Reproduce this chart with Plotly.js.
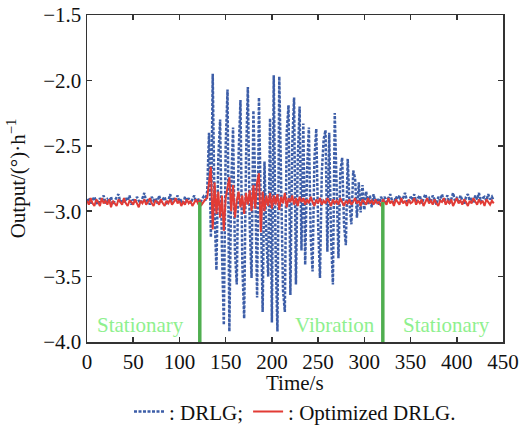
<!DOCTYPE html>
<html>
<head>
<meta charset="utf-8">
<script src="https://cdn.plot.ly/plotly-3.0.1.min.js"></script>
<style>html,body{margin:0;padding:0;background:#fff;}#chart{width:519px;height:426px;}</style>
</head>
<body>
<div id="chart"></div>
<script>
// Sampling: every 2 s starting at 0 s
var sampleStart = 0;
var sampleStep = 2;

// DRLG output (°/h)
var drlgBefore = [
  -2.93,-2.90,-2.94,-2.91,-2.89,-2.93,-2.95,-2.90,-2.92,-2.88,
  -2.94,-2.91,-2.93,-2.89,-2.95,-2.92,-2.90,-2.87,-2.93,-2.91,
  -2.94,-2.90,-2.92,-2.88,-2.95,-2.91,-2.93,-2.89,-2.92,-2.94,
  -2.90,-2.86,-2.93,-2.91,-2.95,-2.89,-2.92,-2.90,-2.94,-2.88,
  -2.93,-2.91,-2.89,-2.95,-2.92,-2.87,-2.94,-2.90,-2.92,-2.88,
  -2.93,-2.91,-2.95,-2.89,-2.92,-2.90,-2.94,-2.91,-2.88,-2.93,
  -2.90,-2.95,-2.91,-2.89,-2.92
];
var drlgVibration = [
  -2.85,-2.40,-3.20,-1.95,-3.00,-3.45,-2.60,-2.30,-3.30,-3.87,
  -2.50,-2.07,-3.92,-2.80,-2.36,-3.30,-3.56,-2.57,-2.15,-3.40,
  -3.82,-2.60,-2.05,-3.10,-3.51,-2.23,-2.80,-3.66,-2.13,-3.10,
  -3.77,-2.62,-3.20,-3.50,-2.29,-3.85,-1.96,-3.30,-3.92,-1.97,
  -2.90,-3.60,-3.77,-2.40,-2.19,-3.64,-2.50,-2.13,-3.56,-2.60,
  -2.20,-3.30,-2.33,-3.41,-2.70,-2.36,-3.20,-3.46,-2.60,-2.37,
  -3.10,-3.51,-2.70,-2.45,-2.38,-3.31,-2.40,-3.20,-3.56,-2.25,
  -2.80,-3.36,-2.70,-2.59,-3.10,-3.26,-2.60,-2.95,-3.10,-2.69,
  -2.75,-3.05,-2.78,-3.01,-2.80,-2.99,-2.85,-2.95,-2.88,-2.97,
  -2.87,-2.94,-2.90,-2.95,-2.89
];
var drlgAfter = [
  -2.92,-2.89,-2.93,-2.90,-2.87,-2.92,-2.94,-2.89,-2.91,-2.88,
  -2.93,-2.90,-2.86,-2.92,-2.94,-2.89,-2.91,-2.87,-2.93,-2.90,
  -2.88,-2.94,-2.91,-2.87,-2.92,-2.90,-2.93,-2.88,-2.91,-2.95,
  -2.89,-2.92,-2.87,-2.93,-2.90,-2.88,-2.94,-2.91,-2.86,-2.92,
  -2.90,-2.93,-2.88,-2.91,-2.95,-2.89,-2.87,-2.92,-2.90,-2.94,
  -2.88,-2.91,-2.86,-2.93,-2.90,-2.89,-2.92,-2.87,-2.91,-2.89,
  -2.92
];

// Optimized DRLG output (°/h)
var optBefore = [
  -2.92,-2.95,-2.90,-2.94,-2.96,-2.91,-2.93,-2.96,-2.90,-2.94,
  -2.92,-2.95,-2.91,-2.97,-2.92,-2.94,-2.96,-2.91,-2.93,-2.95,
  -2.90,-2.94,-2.96,-2.92,-2.93,-2.95,-2.91,-2.94,-2.97,-2.92,
  -2.94,-2.91,-2.95,-2.93,-2.90,-2.94,-2.96,-2.92,-2.93,-2.95,
  -2.91,-2.94,-2.96,-2.92,-2.94,-2.91,-2.95,-2.93,-2.90,-2.94,
  -2.92,-2.96,-2.93,-2.95,-2.91,-2.94,-2.92,-2.96,-2.93,-2.91,
  -2.94,-2.92,-2.95,-2.93,-2.91
];
var optVibration = [
  -2.90,-2.80,-2.66,-3.14,-2.78,-3.02,-2.85,-3.05,-2.88,-3.15,
  -2.90,-2.82,-2.74,-3.00,-2.80,-3.05,-2.92,-2.85,-2.97,-2.88,
  -3.02,-2.86,-2.95,-2.84,-3.00,-2.80,-2.98,-2.78,-2.71,-3.16,
  -2.85,-3.00,-2.88,-2.96,-2.86,-2.98,-2.88,-2.95,-2.87,-2.99,
  -2.89,-2.94,-2.86,-2.97,-2.90,-2.93,-2.88,-2.95,-2.90,-2.96,
  -2.89
];
var optAfter = [
  -2.93,-2.90,-2.95,-2.91,-2.94,-2.89,-2.93,-2.96,-2.91,-2.94,
  -2.90,-2.95,-2.92,-2.94,-2.90,-2.93,-2.96,-2.91,-2.94,-2.92,
  -2.95,-2.90,-2.93,-2.96,-2.92,-2.94,-2.91,-2.95,-2.93,-2.90,
  -2.94,-2.92,-2.96,-2.91,-2.93,-2.95,-2.90,-2.94,-2.92,-2.95,
  -2.91,-2.94,-2.93,-2.96,-2.91,-2.93,-2.95,-2.90,-2.94,-2.92,
  -2.96,-2.91,-2.93,-2.95,-2.90,-2.94,-2.92,-2.96,-2.91,-2.94,
  -2.93,-2.90,-2.95,-2.92,-2.94,-2.91,-2.96,-2.93,-2.90,-2.94,
  -2.92,-2.95,-2.91,-2.94,-2.96,-2.92,-2.93,-2.90,-2.95,-2.92,
  -2.94,-2.91,-2.96,-2.93,-2.90,-2.94,-2.92,-2.95,-2.91,-2.93,
  -2.96,-2.92,-2.94,-2.90,-2.93,-2.95,-2.91,-2.94,-2.92,-2.96,
  -2.91,-2.93,-2.95,-2.92,-2.94
];

// Phase boundaries (s) and labels
var boundaryTimes = [122, 320];
var boundaryLow = -4.0;
var boundaryHigh = -2.93;
var phaseLabels = ["Stationary", "Vibration", "Stationary"];
var phaseLabelTimes = [58, 268, 389];
var phaseLabelLevel = -3.87;

var seriesNames = [": DRLG;", ": Optimized DRLG."];
var xTitle = "Time/s";
var yTitle = "Output/(°)·h<sup>−1</sup>";

var drlg = drlgBefore.concat(drlgVibration, drlgAfter);
var opt = optBefore.concat(optVibration, optAfter);

var FONT = "Liberation Serif, Times New Roman, serif";
var FS = 21;
var traces = [
  {type: "scatter", mode: "lines", name: seriesNames[0], y: drlg, x0: sampleStart, dx: sampleStep,
   line: {color: "#3d5ea8", width: 2.5, dash: "3px,1.5px"}},
  {type: "scatter", mode: "lines", name: seriesNames[1], y: opt, x0: sampleStart, dx: sampleStep,
   line: {color: "#e23b35", width: 2}}
];
boundaryTimes.forEach(function (t) {
  traces.push({type: "scatter", mode: "lines", x: [t, t], y: [boundaryLow, boundaryHigh],
    line: {color: "#4fae4f", width: 3.5}, showlegend: false, hoverinfo: "skip"});
});

var annotations = phaseLabels.map(function (s, i) {
  return {x: phaseLabelTimes[i], y: phaseLabelLevel, xref: "x", yref: "y", text: s, showarrow: false,
    font: {family: FONT, size: FS, color: "#8ef08e"}, xanchor: "center", yanchor: "middle"};
});
annotations.push({x: 0.5, y: -0.125, xref: "paper", yref: "paper", text: xTitle, showarrow: false,
  font: {family: FONT, size: FS, color: "#111"}, xanchor: "center", yanchor: "middle"});

var axisCommon = {
  showgrid: false, zeroline: false, showline: true, linecolor: "#333", linewidth: 1.5,
  mirror: "ticks", ticks: "inside", ticklen: 5, tickwidth: 1.5, tickcolor: "#333",
  automargin: false,
  tickfont: {family: FONT, size: FS, color: "#111"}
};

var layout = {
  width: 519, height: 426,
  margin: {l: 87, r: 16, t: 15, b: 84},
  paper_bgcolor: "#fff", plot_bgcolor: "#fff",
  font: {family: FONT, size: FS, color: "#111"},
  showlegend: true,
  legend: {orientation: "h", x: 0.5, xanchor: "center", yref: "container", y: 0.033, yanchor: "middle",
    font: {family: FONT, size: FS, color: "#111"}, itemwidth: 30, tracegroupgap: 0},
  xaxis: Object.assign({}, axisCommon, {range: [0, 450], dtick: 50, tick0: 0}),
  yaxis: Object.assign({}, axisCommon, {range: [-4, -1.5], dtick: 0.5, tick0: -4, tickformat: ".1f",
    title: {text: yTitle, font: {family: FONT, size: FS}, standoff: 12}}),
  annotations: annotations
};

Plotly.newPlot("chart", traces, layout, {displayModeBar: false, staticPlot: true});
</script>
</body>
</html>
